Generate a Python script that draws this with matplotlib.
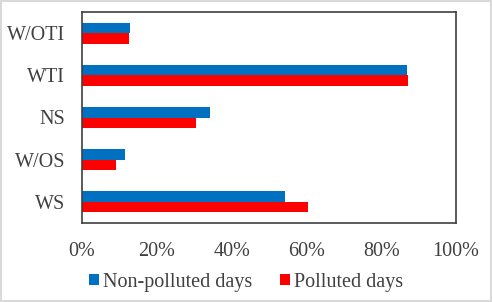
import matplotlib.pyplot as plt
import numpy as np

categories = ['WS', 'W/OS', 'NS', 'WTI', 'W/OTI']
non_polluted = [54.3, 11.5, 34.1, 86.9, 12.8]
polluted = [60.3, 9.1, 30.5, 87.2, 12.7]
xticks = [0, 20, 40, 60, 80, 100]

plt.rcParams['font.family'] = 'Liberation Serif'
txt = '#404040'
fs = 14.5

fig = plt.figure(figsize=(4.92, 3.02), dpi=100)
ax = fig.add_axes([82/492, 1 - 223/302, 374/492, 211/302])

y = np.arange(len(categories))
h = 0.25
ax.barh(y + h/2, non_polluted, height=h, color='#0070C0', label='Non-polluted days')
ax.barh(y - h/2, polluted, height=h, color='#FF0000', label='Polluted days')

ax.set_xlim(0, 100)
ax.set_ylim(-0.5, len(categories) - 0.5)
ax.set_yticks(y)
ax.set_yticklabels(categories, fontsize=fs, color=txt)
ax.set_xticks(xticks)
ax.set_xticklabels([f'{v}%' for v in xticks], fontsize=fs, color=txt)
ax.tick_params(length=0)
ax.tick_params(axis='x', pad=13.5)
ax.tick_params(axis='y', pad=12)
for s in ax.spines.values():
    s.set_color('#404040')
    s.set_linewidth(1.2)

fig.legend(loc='center', bbox_to_anchor=(0.5, 1 - 282/302), ncol=2, frameon=False,
           fontsize=fs, labelcolor=txt, handlelength=0.5, handleheight=0.5,
           handletextpad=0.2, columnspacing=1.35)

# light border round the picture
fig.patches.append(plt.Rectangle((0.002, 0.003), 0.995, 0.994, transform=fig.transFigure,
                                 fill=False, edgecolor='#d9d9d9', linewidth=1.5))

fig.savefig('out.png', dpi=100)
